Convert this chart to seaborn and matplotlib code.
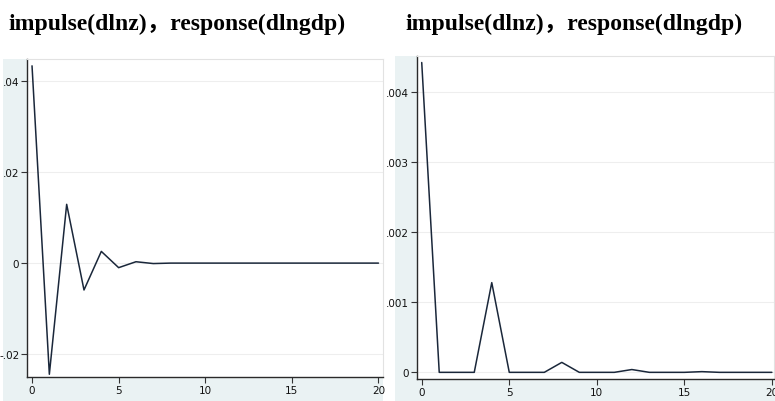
import numpy as np
import pandas as pd
import seaborn as sns
import matplotlib
matplotlib.use("Agg")
import matplotlib.pyplot as plt
from matplotlib.patches import Rectangle

# Impulse-response steps and responses of dlngdp to a dlnz shock
steps = list(range(21))
irf_left = [0.0433, -0.0244, 0.0129, -0.0059, 0.00257, -0.0010, 0.0003, -0.0001,
            0.0, 0.0, 0.0, 0.0, 0.0, 0.0, 0.0, 0.0, 0.0, 0.0, 0.0, 0.0, 0.0]
irf_right = [0.00442, 0.0, 0.0, 0.0, 0.00128, 0.0, 0.0, 0.0, 0.000142, 0.0,
             0.0, 0.0, 0.00004, 0.0, 0.0, 0.0, 0.00001, 0.0, 0.0, 0.0, 0.0]

title_text = "impulse(dlnz)，response(dlngdp)"
left_yticks = [-0.02, 0.0, 0.02, 0.04]
left_yticklabels = ["-.02", "0", ".02", ".04"]
right_yticks = [0.0, 0.001, 0.002, 0.003, 0.004]
right_yticklabels = ["0", ".001", ".002", ".003", ".004"]
xticks = [0, 5, 10, 15, 20]

sns.set_style("white")
plt.rcParams["font.family"] = ["Liberation Sans Narrow", "DejaVu Sans"]

W, H = 775, 402
fig = plt.figure(figsize=(W / 100, H / 100), dpi=100)
fig.patch.set_facecolor("white")

graph_bg = "#eaf2f3"
line_color = "#1a273a"


def px_rect(x0, y0, x1, y1):
    return [x0 / W, 1 - y1 / H, (x1 - x0) / W, (y1 - y0) / H]


# graph-region backgrounds, kept behind the plot areas
for (x0, y0, x1, y1) in [(3, 60, 383, 402), (395, 57, 775, 402)]:
    fig.patches.append(Rectangle((x0 / W, 1 - y1 / H), (x1 - x0) / W, (y1 - y0) / H,
                                 transform=fig.transFigure, facecolor=graph_bg,
                                 edgecolor="none", zorder=-5))

ax1 = fig.add_axes(px_rect(27, 60, 383, 378))
ax2 = fig.add_axes(px_rect(417, 57, 774, 380))
ax1.set_zorder(2)
ax2.set_zorder(2)

panels = [
    (ax1, irf_left, (-0.025, 0.0448), (-0.29, 20.26), left_yticks, left_yticklabels),
    (ax2, irf_right, (-0.000095, 0.004513), (-0.27, 20.12), right_yticks, right_yticklabels),
]

for ax, vals, ylim, xlim, yt, ytl in panels:
    df = pd.DataFrame({"step": steps, "irf": vals})
    ax.set_facecolor("white")
    for y in yt:
        ax.axhline(y, color="#eeeeee", lw=0.8, zorder=0)
    sns.lineplot(data=df, x="step", y="irf", ax=ax, color=line_color, lw=1.1)
    ax.set_ylim(*ylim)
    ax.set_xlim(*xlim)
    ax.set_xticks(xticks)
    ax.set_xticklabels([str(t) for t in xticks])
    ax.set_yticks(yt)
    ax.set_yticklabels(ytl)
    ax.set_xlabel("")
    ax.set_ylabel("")
    ax.tick_params(axis="both", direction="out", length=4, width=0.8,
                   color="#333333", labelsize=7.5, labelcolor="#111111", pad=1.5,
                   left=True, bottom=True)
    for side in ["left", "bottom"]:
        ax.spines[side].set_color("#2a2a2a")
        ax.spines[side].set_linewidth(1.0)
    for side in ["top", "right"]:
        ax.spines[side].set_color("#e2e2e2")
        ax.spines[side].set_linewidth(0.8)

title_font = dict(family=["Liberation Serif", "Noto Sans CJK SC"], weight="bold",
                  size=17, color="black")
fig.text(8 / W, 1 - 24 / H, title_text, ha="left", va="center", **title_font)
fig.text(405 / W, 1 - 24 / H, title_text, ha="left", va="center", **title_font)

fig.savefig("out.png", dpi=100)
